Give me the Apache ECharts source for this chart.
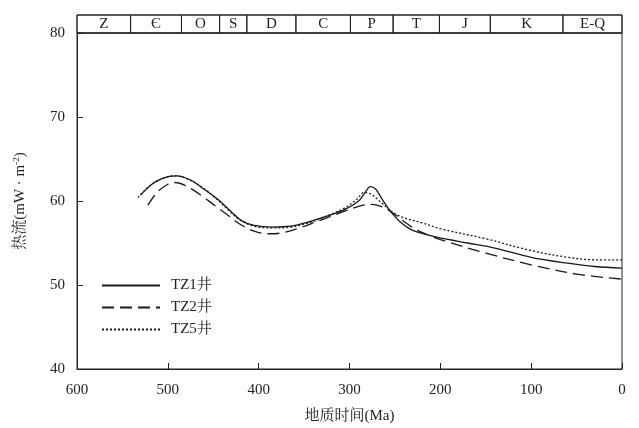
<!DOCTYPE html>
<html><head><meta charset="utf-8">
<script src="https://cdn.jsdelivr.net/npm/echarts@6/dist/echarts.min.js"></script>
<style>html,body{margin:0;padding:0;background:#fff}#c{width:639px;height:428px}</style>
</head><body><div id="c"></div>
<script>
const FONT = "'Liberation Serif', 'Noto Serif CJK SC', 'Noto Sans CJK SC', serif";
const xTicks = [600, 500, 400, 300, 200, 100, 0];
const yTicks = [40, 50, 60, 70, 80];
const periodNames = ['Z', '\u0404', 'O', 'S', 'D', 'C', 'P', 'T', 'J', 'K', 'E-Q'];
const periodBounds = [600, 541, 485, 443, 413, 359, 299, 252, 201, 145, 65, 0];
const seriesNames = ['TZ1井', 'TZ2井', 'TZ5井'];
const tz1 = [[530,60.7],[515,62.2],[500,62.9],[490,63.0],[475,62.5],[460,61.4],[445,60.2],[430,58.7],[418,57.6],[405,57.1],[385,56.9],[365,57.0],[345,57.5],[325,58.2],[305,59.0],[290,60.0],[283,61.0],[277,61.7],[271,61.4],[264,60.2],[255,58.8],[245,57.6],[232,56.6],[215,56.0],[200,55.6],[170,55.0],[140,54.4],[100,53.3],[60,52.6],[30,52.2],[0,52.0]];
const tz2 = [[522,59.5],[512,61.0],[500,62.0],[492,62.2],[480,61.8],[465,60.8],[450,59.6],[435,58.4],[420,57.2],[405,56.4],[390,56.1],[375,56.2],[355,56.8],[335,57.6],[315,58.4],[300,59.0],[285,59.5],[275,59.6],[262,59.2],[250,58.4],[238,57.4],[225,56.5],[210,55.8],[200,55.4],[150,53.8],[100,52.4],[50,51.3],[0,50.7]];
const tz5 = [[533,60.4],[520,61.8],[505,62.7],[492,63.0],[478,62.6],[462,61.6],[447,60.3],[432,58.8],[420,57.7],[405,57.0],[385,56.8],[365,56.9],[345,57.4],[325,58.2],[305,59.2],[292,60.2],[284,61.0],[276,60.8],[265,59.8],[253,58.7],[240,58.0],[220,57.4],[200,56.7],[150,55.5],[100,54.1],[60,53.3],[30,53.0],[0,53.0]];

const chart = echarts.init(document.getElementById('c'), null, {renderer:'canvas'});
const lineColor = '#1a1a1a';
const axisCommon = {
  axisLine:{show:true, onZero:false, lineStyle:{color:'#222', width:1}},
  axisTick:{show:true, inside:true, length:6, lineStyle:{color:'#222'}},
  splitLine:{show:false}
};
const bandData = periodNames.map((n,i)=>[{xAxis:periodBounds[i], name:n},{xAxis:periodBounds[i+1]}]);
chart.setOption({
  animation:false,
  backgroundColor:'#fff',
  grid:[
    {left:77, right:17, top:33, bottom:59, show:true, borderColor:'#222', borderWidth:1, containLabel:false, outerBoundsMode:'none'},
    {left:77, right:17, top:15, height:18, show:true, borderColor:'#222', borderWidth:1, containLabel:false, outerBoundsMode:'none'}
  ],
  xAxis:[
    Object.assign({}, axisCommon, {type:'value', gridIndex:0, min:0, max:600, interval:100, inverse:true,
      position:'bottom',
      name:'地质时间(Ma)', nameLocation:'middle', nameGap:40,
      nameTextStyle:{color:'#222', fontFamily:FONT, fontSize:15},
      axisLabel:{color:'#222', fontFamily:FONT, fontSize:15, margin:14,
        formatter:v=>xTicks.includes(v)?String(v):''}}),
    {type:'value', gridIndex:1, min:0, max:600, inverse:true, show:false}
  ],
  yAxis:[
    Object.assign({}, axisCommon, {type:'value', gridIndex:0, min:40, max:80, interval:10,
      position:'left',
      name:'热流(mW · m{sup|-2})', nameLocation:'middle', nameGap:48, nameRotate:90,
      nameTextStyle:{color:'#222', fontFamily:FONT, fontSize:15,
        rich:{sup:{fontSize:9, verticalAlign:'top', padding:[0,0,8,0], fontFamily:FONT, color:'#222'}}},
      axisLabel:{color:'#222', fontFamily:FONT, fontSize:15, margin:12,
        formatter:v=>yTicks.includes(v)?String(v):''}}),
    {type:'value', gridIndex:1, min:0, max:1, show:false}
  ],
  legend:{
    orient:'vertical', left:96, top:273, itemWidth:58, itemHeight:10, itemGap:7,
    data:seriesNames,
    itemStyle:{opacity:0},
    textStyle:{color:'#222', fontFamily:FONT, fontSize:15, padding:[0,0,0,6]}
  },
  series:[
    {name:seriesNames[0], type:'line', data:tz1, smooth:0.35, symbol:'none', xAxisIndex:0, yAxisIndex:0,
      lineStyle:{color:lineColor, width:1.3, type:'solid'}, itemStyle:{color:lineColor}},
    {name:seriesNames[1], type:'line', data:tz2, smooth:0.35, symbol:'none', xAxisIndex:0, yAxisIndex:0,
      lineStyle:{color:lineColor, width:1.3, type:[12,6]}, itemStyle:{color:lineColor}},
    {name:seriesNames[2], type:'line', data:tz5, smooth:0.35, symbol:'none', xAxisIndex:0, yAxisIndex:0,
      lineStyle:{color:lineColor, width:1.3, type:[2,2]}, itemStyle:{color:lineColor}},
    {name:'band', type:'line', data:[], xAxisIndex:1, yAxisIndex:1, silent:true,
      markArea:{silent:true,
        itemStyle:{color:'rgba(0,0,0,0)', borderColor:'#222', borderWidth:1},
        label:{show:true, position:'inside', color:'#222', fontFamily:FONT, fontSize:15},
        data:bandData}}
  ]
});
</script></body></html>
